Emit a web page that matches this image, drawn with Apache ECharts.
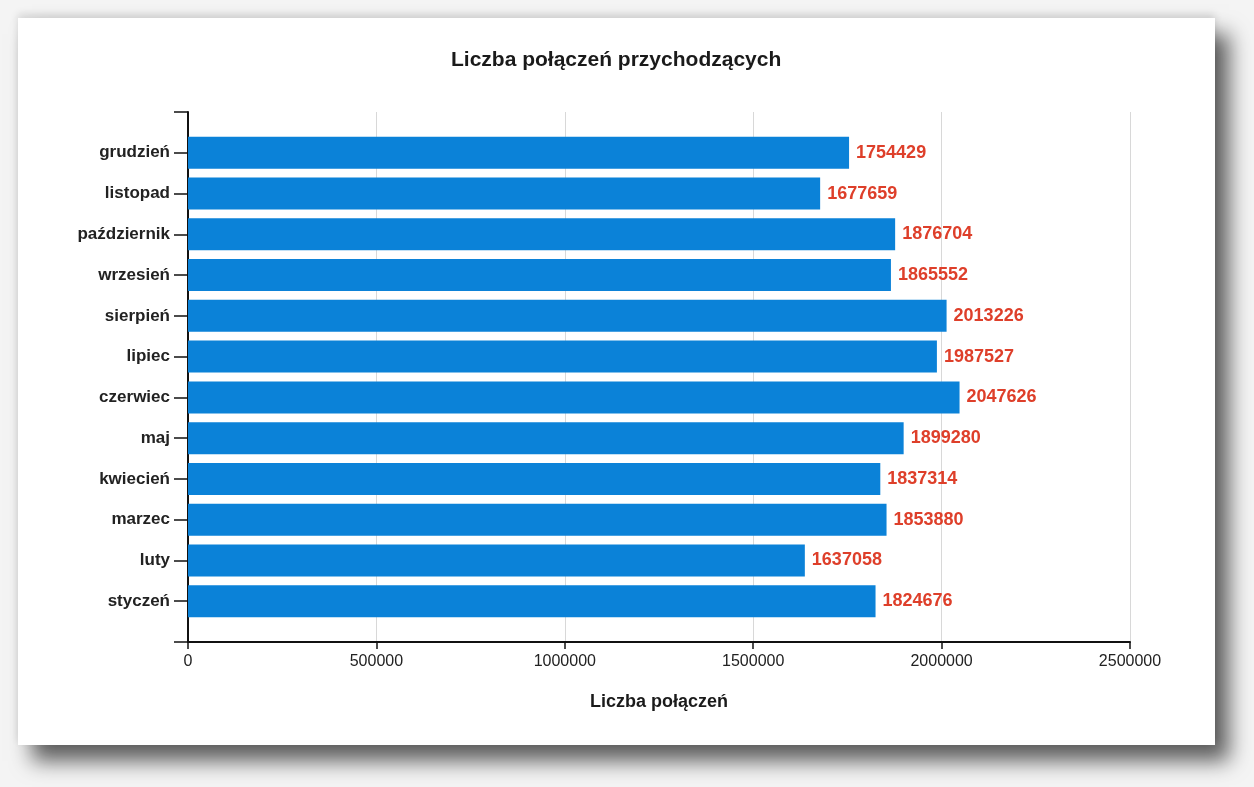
<!DOCTYPE html>
<html>
<head>
<meta charset="utf-8">
<script src="https://cdn.jsdelivr.net/npm/echarts@6/dist/echarts.min.js"></script>
<style>
  html, body { margin: 0; padding: 0; background: #f4f4f4; }
  #wrap { position: relative; width: 1254px; height: 787px; overflow: hidden; }
  #card {
    position: absolute; left: 18px; top: 18px; width: 1197px; height: 727px;
    background: #fff;
    box-shadow: 14px 16px 20px rgba(0, 0, 0, 0.62), 0 -4px 8px rgba(0, 0, 0, 0.12);
  }
  #chart { position: absolute; left: 0; top: 0; width: 1254px; height: 787px; }
</style>
</head>
<body>
<div id="wrap">
  <div id="card"></div>
  <div id="chart"></div>
</div>
<script>
// miesiące od dołu (styczeń) do góry (grudzień)
var months = ["styczeń", "luty", "marzec", "kwiecień", "maj", "czerwiec",
  "lipiec", "sierpień", "wrzesień", "październik", "listopad", "grudzień"];
var calls = [1824676, 1637058, 1853880, 1837314, 1899280, 2047626,
  1987527, 2013226, 1865552, 1876704, 1677659, 1754429];
var xTicks = [0, 500000, 1000000, 1500000, 2000000, 2500000];

// puste pozycje na końcach osi, żeby oś wystawała poza słupki
var yCats = [""].concat(months, [""]);
var yVals = [null].concat(calls, [null]);

var chart = echarts.init(document.getElementById("chart"));

var option = {
  animation: false,
  backgroundColor: "transparent",
  title: {
    text: "Liczba połączeń przychodzących",
    left: 446,
    top: 45,
    textStyle: {
      fontFamily: "Liberation Sans",
      fontSize: 21,
      fontWeight: "bold",
      color: "#1a1a1a",
    },
  },
  grid: {
    left: 188,
    right: 124,
    top: 112,
    bottom: 145,
  },
  xAxis: {
    type: "value",
    min: xTicks[0],
    max: xTicks[xTicks.length - 1],
    interval: xTicks[1] - xTicks[0],
    name: "Liczba połączeń",
    nameLocation: "middle",
    nameGap: 51,
    nameTextStyle: {
      fontFamily: "Liberation Sans",
      fontSize: 18,
      fontWeight: "bold",
      color: "#1a1a1a",
    },
    axisLine: { show: true, lineStyle: { color: "#111", width: 2 } },
    axisTick: { show: true, length: 7, lineStyle: { color: "#111", width: 1.5 } },
    axisLabel: {
      margin: 12,
      fontFamily: "Liberation Sans",
      fontSize: 16,
      color: "#222",
      formatter: function (v) { return String(v); },
    },
    splitLine: { show: true, lineStyle: { color: "#d8d8d8", width: 1 } },
  },
  yAxis: {
    type: "category",
    data: yCats,
    boundaryGap: false,
    axisLine: { show: true, lineStyle: { color: "#111", width: 2 } },
    axisTick: {
      show: true,
      length: 14,
      interval: 0,
      lineStyle: { color: "#111", width: 1.5 },
    },
    axisLabel: {
      interval: 0,
      margin: 18,
      fontFamily: "Liberation Sans",
      fontSize: 17,
      fontWeight: "bold",
      color: "#222",
    },
    splitLine: { show: false },
  },
  series: [
    {
      type: "bar",
      data: yVals,
      barWidth: 32,
      itemStyle: { color: "#0b82d8" },
      label: {
        show: true,
        position: "right",
        distance: 7,
        fontFamily: "Liberation Sans",
        fontSize: 18,
        fontWeight: "bold",
        color: "#de3f2a",
      },
    },
  ],
};

chart.setOption(option);
</script>
</body>
</html>
